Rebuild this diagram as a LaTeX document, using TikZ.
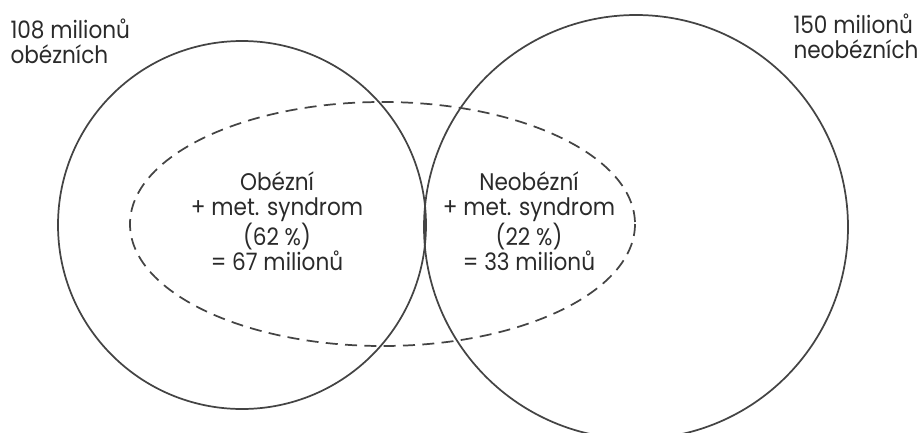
\documentclass[tikz,border=0pt]{standalone}
\usepackage{fontspec}
\setmainfont[FakeStretch=0.9]{Poppins}
\definecolor{lineGrey}{HTML}{444444}
\definecolor{textGrey}{HTML}{2A2A2A}
\tikzset{every picture/.style={line width=0.75pt}}
\tikzset{vennText/.style={inner sep=0pt, text=textGrey, font=\fontsize{18}{18.5}\selectfont}}

\begin{document}
\begin{tikzpicture}[x=0.75pt,y=0.75pt,yscale=-1,xscale=1]
\useasboundingbox (0,0) rectangle (917,432);

%Shape: Circle [id:dp4417203965105832] 
\draw  [color=lineGrey, line width=1.3] (242,225) circle [radius=184] ;
%Shape: Circle [id:dp8035129116724410] 
\draw  [color=lineGrey, line width=1.3] (636,227) circle [radius=212] ;
%Shape: Ellipse [id:dp2290371564108376] 
\draw  [color=lineGrey, line width=1.3, dash pattern={on 9pt off 5.5pt}] (382.5,224) ellipse [x radius=252.5, y radius=122] ;

% Text Node
\node (obeseTotal) [vennText, anchor=base west, align=left] at (10,63) {108 milionů\\obézních};
% Text Node
\node (nonObeseTotal) [vennText, anchor=base west, align=left] at (793,58) {150 milionů\\neobézních};
% Text Node
\node (obeseMets) [vennText, anchor=base, align=center] at (277,270) {Obézní\\+ met. syndrom\\(62 \%)\\= 67 milionů};
% Text Node
\node (nonObeseMets) [vennText, anchor=base, align=center] at (529,270) {Neobézní\\+ met. syndrom\\(22 \%)\\= 33 milionů};

\end{tikzpicture}
\end{document}
